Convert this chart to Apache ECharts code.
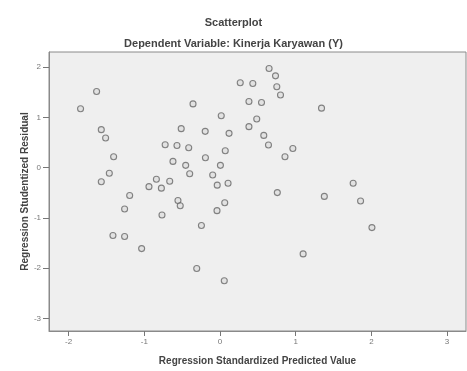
<!DOCTYPE html>
<html>
<head>
<meta charset="utf-8">
<script src="https://cdn.jsdelivr.net/npm/echarts@6/dist/echarts.min.js"></script>
<style>
html,body{margin:0;padding:0;background:#fff;}
#c{width:467px;height:371px;}
</style>
</head>
<body>
<div id="c"></div>
<script>
// Predicted values (x) and studentized residuals (y)
const predicted = [-1.843,-1.631,-1.569,-1.512,-1.406,-1.463,-1.569,-1.415,-1.261,-1.036,
  -1.261,-1.194,-0.939,-0.775,-0.841,-0.665,-0.622,-0.725,-0.569,-0.414,
  -0.454,-0.401,-0.513,-0.357,0.016,-0.196,0.119,0.069,-0.193,0.005,
  -0.097,-0.037,0.106,-0.556,-0.526,-0.767,0.062,-0.040,-0.246,-0.308,
  0.056,0.267,0.433,0.648,0.733,0.750,0.799,0.382,0.548,0.485,
  0.382,0.578,0.640,0.962,0.858,0.757,1.341,1.759,1.378,1.857,
  2.007,1.098];
const residual = [1.170,1.515,0.755,0.588,0.217,-0.112,-0.280,-1.349,-1.369,-1.611,
  -0.822,-0.556,-0.379,-0.408,-0.231,-0.270,0.124,0.454,0.440,0.394,
  0.045,-0.122,0.775,1.268,1.032,0.722,0.682,0.335,0.197,0.045,
  -0.146,-0.349,-0.310,-0.655,-0.757,-0.941,-0.698,-0.856,-1.152,-2.006,
  -2.249,1.688,1.673,1.972,1.826,1.609,1.446,1.314,1.294,0.966,
  0.815,0.641,0.450,0.381,0.217,-0.497,1.183,-0.310,-0.572,-0.665,
  -1.193,-1.716];
const xTicks = [-2,-1,0,1,2,3];
const yTicks = [-3,-2,-1,0,1,2];

const points = predicted.map((v,i)=>[v,residual[i]]);
const font = 'Liberation Sans, Arial, sans-serif';
const chart = echarts.init(document.getElementById('c'));
chart.setOption({
  backgroundColor:'#ffffff',
  animation:false,
  title:[
    {text:'Scatterplot',left:'center',top:12,textStyle:{fontFamily:font,fontSize:11,fontWeight:'bold',color:'#444'}},
    {text:'Dependent Variable: Kinerja Karyawan (Y)',left:'center',top:33,textStyle:{fontFamily:font,fontSize:11,fontWeight:'bold',color:'#444'}}
  ],
  grid:{left:49,right:1,top:52,bottom:37,show:true,backgroundColor:'#efefef',borderColor:'#8a8a8a',borderWidth:1},
  xAxis:{
    type:'value',min:-2.26,max:3.25,
    name:'Regression Standardized Predicted Value',nameLocation:'middle',nameGap:25,nameMoveOverlap:false,
    nameTextStyle:{fontFamily:font,fontSize:10,fontWeight:'bold',color:'#444'},
    axisLine:{show:true,onZero:false,lineStyle:{color:'#8a8a8a'}},
    axisTick:{show:true,length:5,customValues:xTicks,lineStyle:{color:'#777'}},
    axisLabel:{customValues:xTicks,fontFamily:font,fontSize:8,color:'#777',margin:7},
    splitLine:{show:false}
  },
  yAxis:{
    type:'value',min:-3.25,max:2.3,
    name:'Regression Studentized Residual',nameLocation:'middle',nameGap:19,nameMoveOverlap:false,
    nameTextStyle:{fontFamily:font,fontSize:10,fontWeight:'bold',color:'#444'},
    axisLine:{show:true,onZero:false,lineStyle:{color:'#8a8a8a'}},
    axisTick:{show:true,length:6,customValues:yTicks,lineStyle:{color:'#777'}},
    axisLabel:{customValues:yTicks,fontFamily:font,fontSize:8,color:'#777',margin:8},
    splitLine:{show:false}
  },
  series:[{
    type:'scatter',
    data:points,
    symbol:'circle',
    symbolSize:6,
    itemStyle:{color:'rgba(200,200,200,0.4)',borderColor:'#666',borderWidth:1.1}
  }]
});
</script>
</body>
</html>
